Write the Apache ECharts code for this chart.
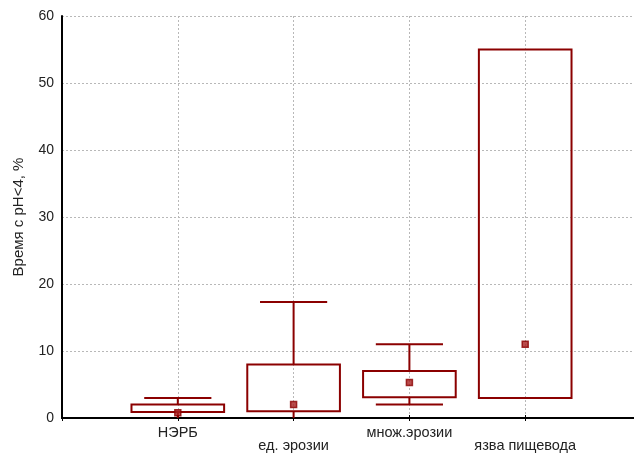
<!DOCTYPE html>
<html>
<head>
<meta charset="utf-8">
<script src="https://cdn.jsdelivr.net/npm/echarts@6/dist/echarts.min.js"></script>
<style>
  html, body { margin: 0; padding: 0; background: #fff; }
  #chart { width: 634px; height: 454px; }
</style>
</head>
<body>
<div id="chart"></div>
<script>
// Groups along the x axis
const categories = ['НЭРБ', 'ед. эрозии', 'множ.эрозии', 'язва пищевода'];
// Whisker ends, box edges and medians (% of time with pH<4)
const minValues    = [0,   0,    2,   3];
const q1Values     = [0.9, 1,    3.1, 3];
const medianValues = [0.8, 2,    5.3, 11];
const q3Values     = [2,   8,    7,   55];
const maxValues    = [3,   17.3, 11,  55];
const yTicks = [0, 10, 20, 30, 40, 50, 60];

const boxColor = '#8b0000';
const fontFamily = '"Liberation Sans", Arial, sans-serif';

const boxData = categories.map((c, i) => [i + 1, minValues[i], q1Values[i], q3Values[i], maxValues[i]]);
const medianData = categories.map((c, i) => [i + 1, medianValues[i]]);

function renderBox(params, api) {
  const x = api.value(0);
  const lo = api.value(1), q1 = api.value(2), q3 = api.value(3), hi = api.value(4);
  const band = api.size([1, 0])[0];
  const bw = band * 0.8, cw = band * 0.58;
  const cx = api.coord([x, 0])[0];
  const y = v => api.coord([x, v])[1];
  const style = { stroke: boxColor, lineWidth: 2, fill: null };
  const children = [];
  if (hi > q3) {
    children.push({ type: 'line', shape: { x1: cx, y1: y(q3), x2: cx, y2: y(hi) }, style });
    children.push({ type: 'line', shape: { x1: cx - cw / 2, y1: y(hi), x2: cx + cw / 2, y2: y(hi) }, style });
  }
  if (lo < q1) {
    children.push({ type: 'line', shape: { x1: cx, y1: y(q1), x2: cx, y2: y(lo) }, style });
    if (lo > yTicks[0]) {
      children.push({ type: 'line', shape: { x1: cx - cw / 2, y1: y(lo), x2: cx + cw / 2, y2: y(lo) }, style });
    }
  }
  children.push({ type: 'rect', shape: { x: cx - bw / 2, y: y(q3), width: bw, height: y(q1) - y(q3) }, style });
  return { type: 'group', children };
}

const chart = echarts.init(document.getElementById('chart'), null, { renderer: 'canvas' });

const gridLine = { show: true, lineStyle: { color: '#b8b8b8', type: [2, 2], width: 1 } };

chart.setOption({
  animation: false,
  backgroundColor: '#fff',
  // the plot frame runs past the right edge of the canvas
  grid: { left: 62, top: 16, bottom: 36, width: 579, containLabel: false, outerBoundsMode: 'none' },
  xAxis: [
    {
      type: 'value', position: 'bottom', min: 0, max: categories.length + 1, interval: 1,
      axisLine: { show: true, onZero: false, lineStyle: { color: '#000', width: 2 } },
      axisTick: { show: true, inside: true, length: 3, lineStyle: { color: '#000' } },
      splitLine: gridLine,
      axisLabel: {
        margin: 8, fontSize: 14.5, lineHeight: 13, color: '#222', fontFamily,
        formatter: v => {
          const name = categories[v - 1];
          if (!name) return '';
          return (v % 2 === 0) ? '\n' + name : name;
        }
      }
    },
    {
      type: 'value', position: 'top', min: 0, max: categories.length + 1, interval: 1,
      axisLine: { show: true, lineStyle: { color: '#000', width: 2 } },
      axisTick: { show: true, inside: true, length: 3, lineStyle: { color: '#000' } },
      splitLine: { show: false },
      axisLabel: { show: false }
    }
  ],
  yAxis: {
    type: 'value', min: yTicks[0], max: yTicks[yTicks.length - 1], interval: 10,
    name: 'Время с pH<4, %', nameLocation: 'middle', nameGap: 36,
    nameTextStyle: { fontSize: 15, color: '#222', fontFamily },
    axisLine: { show: true, onZero: false, lineStyle: { color: '#000', width: 2 } },
    axisTick: { show: false },
    splitLine: gridLine,
    axisLabel: { margin: 8, fontSize: 14, color: '#222', fontFamily }
  },
  series: [
    {
      type: 'custom', renderItem: renderBox, data: boxData,
      encode: { x: 0, y: [1, 2, 3, 4] }, clip: false, z: 3
    },
    {
      type: 'scatter', data: medianData, symbol: 'rect', symbolSize: 6,
      itemStyle: { color: '#a82020', borderColor: boxColor, borderWidth: 1.5 }, z: 4
    }
  ]
});
</script>
</body>
</html>
